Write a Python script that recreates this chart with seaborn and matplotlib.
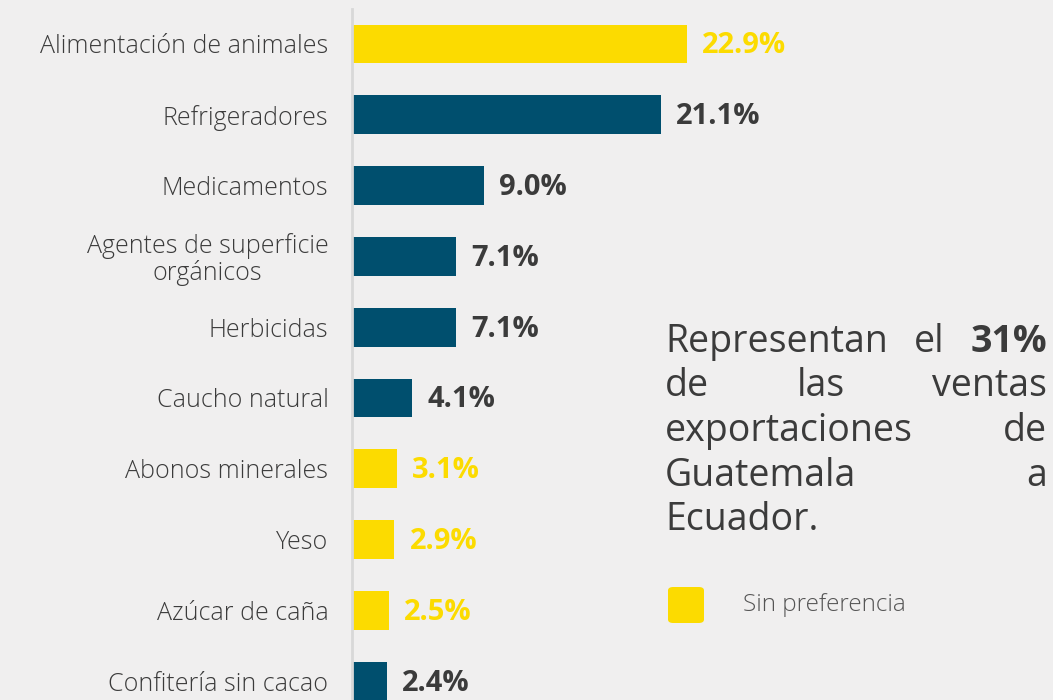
import matplotlib
matplotlib.use("Agg")
import matplotlib.pyplot as plt
import seaborn as sns
import pandas as pd
from matplotlib.patches import FancyBboxPatch

# ---- data ----
categories = ["Alimentación de animales", "Refrigeradores", "Medicamentos",
              "Agentes de superficie\norgánicos", "Herbicidas", "Caucho natural",
              "Abonos minerales", "Yeso", "Azúcar de caña", "Confitería sin cacao"]
values = [22.9, 21.1, 9.0, 7.1, 7.1, 4.1, 3.1, 2.9, 2.5, 2.4]
groups = ["Sin preferencia", "Otros", "Otros", "Otros", "Otros", "Otros",
          "Sin preferencia", "Sin preferencia", "Sin preferencia", "Otros"]
summary_lines = [["Representan", "el", "31%"], ["de", "las", "ventas"],
                 ["exportaciones", "de"], ["Guatemala", "a"], ["Ecuador."]]
bold_words = {"31%"}
legend_label = "Sin preferencia"

# ---- style ----
BG = "#f0efef"
YELLOW = "#fcdb00"
NAVY = "#004f6e"
DARK = "#3b3b3b"
FONT = "Open Sans"

sns.set_theme(style="white")
plt.rcParams["font.family"] = [FONT, "DejaVu Sans"]

W, H = 1053, 700
fig = plt.figure(figsize=(W / 100, H / 100), dpi=100, facecolor=BG)
ax = fig.add_axes([352 / W, 0, 1 - 352 / W, (H - 9) / H])
ax.set_facecolor(BG)

df = pd.DataFrame({"cat": categories, "val": values, "grp": groups})
palette = {"Sin preferencia": YELLOW, "Otros": NAVY}
sns.barplot(data=df, x="val", y="cat", hue="grp", palette=palette, dodge=False,
            orient="h", width=0.55, legend=False, ax=ax, saturation=1,
            linewidth=0, edgecolor="none")

ax.set_xlim(0, 47.9)
ax.set_ylim(9.266, -0.494)
ax.set_xlabel("")
ax.set_ylabel("")
ax.set_xticks([])
for s in ["top", "right", "bottom"]:
    ax.spines[s].set_visible(False)
ax.spines["left"].set_color("#d8d8d8")
ax.spines["left"].set_linewidth(2)
ax.tick_params(axis="y", length=0, pad=17, labelsize=18, labelcolor=DARK)
for lab in ax.get_yticklabels():
    lab.set_multialignment("center")
    lab.set_fontweight("light")
    lab.set_linespacing(1.05)

for i, (v, g) in enumerate(zip(values, groups)):
    ax.annotate(f"{v:.1f}%", xy=(v, i), xytext=(15, -2), textcoords="offset pixels",
                ha="left", va="center", fontsize=21, fontweight="bold",
                color=YELLOW if g == "Sin preferencia" else DARK)

# ---- justified summary text ----
left_px, right_px = 665, 1047
baselines = [352, 396.5, 441, 485.5, 530]
renderer = fig.canvas.get_renderer()
for line, base in zip(summary_lines, baselines):
    texts = []
    for w in line:
        t = fig.text(left_px / W, 1 - base / H, w, ha="left", va="baseline",
                     fontsize=27, color=DARK,
                     fontweight="bold" if w in bold_words else "normal")
        texts.append(t)
    if len(texts) > 1:
        widths = [t.get_window_extent(renderer).width for t in texts]
        gap = (right_px - left_px - sum(widths)) / (len(texts) - 1)
        x = left_px
        for t, wd in zip(texts, widths):
            t.set_x(x / W)
            x += wd + gap

# ---- legend ----
sq = FancyBboxPatch((668 / W, 1 - 623 / H), 36 / W, 36 / H,
                    boxstyle="round,pad=0,rounding_size=0.005",
                    transform=fig.transFigure, facecolor=YELLOW, edgecolor="none")
fig.patches.append(sq)
fig.text(743 / W, 1 - 605 / H, legend_label, ha="left", va="center",
         fontsize=17.5, color="#555555", fontweight="light")

fig.savefig("out.png", dpi=100, facecolor=BG)
